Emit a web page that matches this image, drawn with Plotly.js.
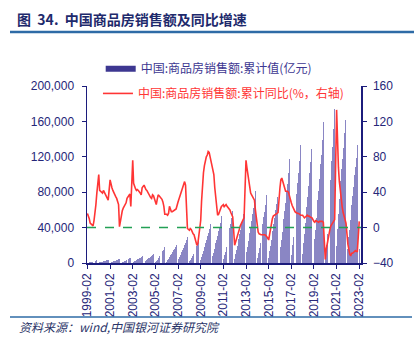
<!DOCTYPE html>
<html>
<head>
<meta charset="utf-8">
<script src="https://cdn.plot.ly/plotly-3.0.1.min.js"></script>
<style>
html,body{margin:0;padding:0;background:#fff;}
#chart{width:414px;height:338px;}
</style>
</head>
<body>
<div id="chart"></div>
<script>
// Years and months (January is merged into February in the source data)
const years = [1999,2000,2001,2002,2003,2004,2005,2006,2007,2008,2009,2010,2011,2012,2013,2014,2015,2016,2017,2018,2019,2020,2021,2022,2023];
const months = ['02','03','04','05','06','07','08','09','10','11','12'];

// 中国:商品房销售额:累计值(亿元), per year Feb..Dec
const salesCum = [
  [210,450,660,900,1250,1490,1730,2030,2270,2570,2988],
  [275,590,865,1180,1650,1970,2280,2680,2990,3380,3935],
  [340,730,1070,1460,2040,2430,2820,3310,3700,4180,4863],
  [420,905,1330,1810,2530,3020,3500,4100,4580,5190,6032],
  [560,1190,1750,2390,3340,3980,4610,5410,6050,6840,7956],
  [730,1560,2280,3110,4360,5190,6020,7060,7890,8920,10376],
  [1230,2640,3870,5270,7380,8790,10190,11950,13360,15120,17576],
  [1460,3120,4580,6250,8750,10410,12080,14160,15830,17910,20826],
  [2090,4480,6580,8970,12550,14940,17340,20320,22720,25700,29889],
  [1750,3760,5510,7520,10530,12530,14540,17050,19050,21560,25068],
  [3100,6650,9760,13310,18630,22180,25730,30160,33710,38150,44355],
  [3690,7910,11600,15820,22140,26360,30580,35850,40070,45340,52721],
  [4100,8790,12890,17580,24610,29290,33980,39840,44530,50390,58589],
  [4510,9670,14180,19340,27070,32230,37380,43830,48990,55430,64456],
  [5700,12210,17910,24430,34200,40710,47230,55370,61890,70030,81428],
  [5340,11440,16780,22890,32040,38150,44250,51880,57980,65610,76292],
  [6110,13090,19200,26180,36660,43640,50620,59350,66330,75060,87281],
  [8230,17640,25880,35290,49400,58810,68220,79990,89400,101160,117627],
  [9360,20060,29410,40110,56150,66850,77550,90920,101610,114980,133701],
  [10500,22500,33000,44990,62990,74990,86980,101980,113980,128980,149973],
  [10859,27039,37119,50773,70698,81462,95231,111559,121785,139006,159725],
  [8203,20365,33009,47467,66895,79491,94119,115647,131096,151109,173613],
  [19151,38238,55121,72763,92931,106151,117838,130332,147185,162021,181930],
  [15459,29655,37850,48337,66072,75763,85870,99380,108832,118648,133308],
  [15449]
];

// 中国:商品房销售额:累计同比(%), per year Feb..Dec
const salesYoY = [
  [16,14,10,5,4,3,2,8,16,26,39],
  [60,42,41,40,39,42,40,37,36,33,31],
  [54,48,45,42,39,36,35,33,30,26,1],
  [16,19,22,24,26,28,33,35,37,38,24],
  [76,50,46,44,42,43,42,41,39,37,45],
  [48,44,43,42,40,38,35,34,33,37,36],
  [28,26,32,37,36,35,34,32,29,24,15],
  [15,14,16,24,20,18,18,19,19,20,21],
  [29,32,36,39,41,45,50,52,48,20,-1],
  [-3,-1,-2,-5,-7,-8,-12,-18,-20,-18,-8],
  [8,30,50,62,70,76,80,82,86,85,80],
  [72,66,60,45,31,20,14,15,18,22,24],
  [26,23,25,26,24,23,22,20,17,13,12],
  [-20,-17,-13,-9,-5,-2,2,5,7,9,11],
  [76,68,60,50,43,39,37,35,33,31,20],
  [-2,-5,-7,-8,-8,-8,-8,-8,-8,-9,-10],
  [-14,-8,0,5,10,13,14,15,15,16,17],
  [45,54,56,52,47,43,41,41,41,40,35],
  [28,25,22,20,18,17,16,16,16,15,14],
  [14,12,11,12,13,14,13,13,12,11,11],
  [7,6,8,7,6,6,7,7,7,7,6],
  [-36,-25,-19,-12,-5,-2,2,4,6,7,9],
  [133,88,68,52,39,31,23,17,12,8,5],
  [-19,-26,-30,-32,-29,-29,-28,-26,-26,-27,-27],
  [7]
];

const tickLabels = ['1999-02','2001-02','2003-02','2005-02','2007-02','2009-02','2011-02','2013-02','2015-02','2017-02','2019-02','2021-02','2023-02'];

const barName = '中国:商品房销售额:累计值(亿元)';
const lineName = '中国:商品房销售额:累计同比(%，右轴)';

// flatten into x / y lists
const xDates = [], yCum = [], yYoY = [];
years.forEach((yr, i) => {
  salesCum[i].forEach((v, j) => {
    xDates.push(yr + '-' + months[j] + '-01');
    yCum.push(v);
    yYoY.push(salesYoY[i][j]);
  });
});

const navy = '#1C1C7C';
const tickFont = {family: 'Liberation Sans, Arial, sans-serif', size: 12, color: '#262678'};

const traces = [
  // legend-only entry drawn as a wide swatch, like the reference's legend
  {type: 'scatter', mode: 'lines', x: [null], y: [null], name: barName, line: {color: '#3D3791', width: 6}, legend: 'legend', showlegend: true, hoverinfo: 'skip'},
  {type: 'bar', x: xDates, y: yCum, name: barName, marker: {color: '#8A86C4', line: {width: 0}}, showlegend: false, yaxis: 'y'},
  {type: 'scatter', mode: 'lines', x: xDates, y: yYoY, name: lineName, yaxis: 'y2', line: {color: '#FF3535', width: 1.6}, legend: 'legend2'}
];

const layout = {
  width: 414, height: 338,
  margin: {l: 87, r: 53, t: 86, b: 75},
  paper_bgcolor: '#fff', plot_bgcolor: '#fff',
  bargap: 0,
  showlegend: true,
  title: {
    text: '<b>图  34.  中国商品房销售额及同比增速</b>',
    font: {family: 'Noto Sans CJK SC, sans-serif', size: 14, color: '#1E2A6C'},
    x: 17/414, xanchor: 'left', xref: 'container',
    y: 1 - 20/338, yanchor: 'middle', yref: 'container'
  },
  xaxis: {
    type: 'date',
    range: ['1999-01-18', '2023-03-30'],
    tickvals: tickLabels.map(t => t + '-01'),
    ticktext: tickLabels,
    tickangle: -90,
    tickfont: tickFont,
    showgrid: false, zeroline: false,
    showline: true, linecolor: navy, linewidth: 1.5,
    ticks: 'outside', ticklen: 4, tickcolor: navy, tickwidth: 1
  },
  yaxis: {
    range: [0, 200000],
    tickvals: [0, 40000, 80000, 120000, 160000, 200000],
    tickformat: ',',
    tickfont: tickFont,
    ticklabelstandoff: 5,
    showgrid: false, zeroline: false,
    showline: true, linecolor: navy, linewidth: 1.5,
    ticks: 'outside', ticklen: 4, tickcolor: navy
  },
  yaxis2: {
    overlaying: 'y', side: 'right',
    range: [-40, 160],
    tickvals: [-40, 0, 40, 80, 120, 160],
    tickfont: tickFont,
    ticklabelstandoff: 4,
    showgrid: false, zeroline: false,
    showline: true, linecolor: navy, linewidth: 1.5,
    ticks: 'outside', ticklen: 4, tickcolor: navy
  },
  legend: {
    x: 0.05, xanchor: 'left', y: 1.18, yanchor: 'top',
    bgcolor: 'rgba(0,0,0,0)',
    font: {family: 'Noto Sans CJK SC, sans-serif', size: 12, color: '#3D3791'}
  },
  legend2: {
    x: 0.04, xanchor: 'left', y: 1.04, yanchor: 'top',
    bgcolor: 'rgba(0,0,0,0)',
    font: {family: 'Noto Sans CJK SC, sans-serif', size: 12, color: '#FF3535'}
  },
  shapes: [
    {type: 'line', xref: 'paper', yref: 'y2', x0: 0, x1: 1, y0: 0, y1: 0, line: {color: '#23A055', width: 1.5, dash: 'dash'}},
    {type: 'line', xref: 'paper', yref: 'paper', x0: (10-87)/274, x1: (414-87)/274, y0: (263-32)/177, y1: (263-32)/177, line: {color: '#2E6BA6', width: 2.5}},
    {type: 'line', xref: 'paper', yref: 'paper', x0: (10-87)/274, x1: (412-87)/274, y0: (263-317)/177, y1: (263-317)/177, line: {color: '#2E6BA6', width: 1.5}}
  ],
  annotations: [
    {text: '<i>资料来源：wind,中国银河证券研究院</i>', xref: 'paper', yref: 'paper',
     x: (17-87)/274, xanchor: 'left', y: (263-326)/177, yanchor: 'middle', showarrow: false,
     font: {family: 'Noto Sans CJK SC, sans-serif', size: 12, color: '#2B3568'}}
  ]
};

Plotly.newPlot('chart', traces, layout, {displayModeBar: false, staticPlot: true});
</script>
</body>
</html>
